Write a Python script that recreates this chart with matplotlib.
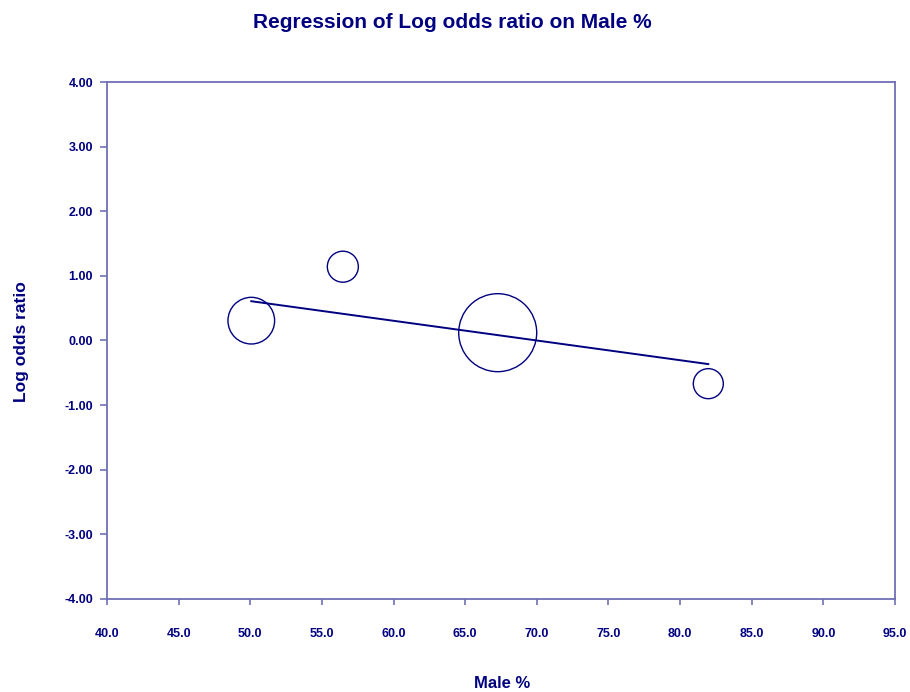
import matplotlib
matplotlib.use("Agg")
import matplotlib.pyplot as plt
import numpy as np

# Data
male_pct = [50.07, 56.46, 67.27, 81.97]
log_odds = [0.307, 1.142, 0.121, -0.668]
weights = [21.5, 9.5, 60.1, 8.9]          # relative study weights (bubble area)
reg_intercept = 2.135
reg_slope = -0.0305
x_ticks = [40.0, 45.0, 50.0, 55.0, 60.0, 65.0, 70.0, 75.0, 80.0, 85.0, 90.0, 95.0]
y_ticks = [-4.0, -3.0, -2.0, -1.0, 0.0, 1.0, 2.0, 3.0, 4.0]

navy = "#000080"
frame = "#7070b8"
plt.rcParams['font.family'] = ['Liberation Sans', 'DejaVu Sans']

fig = plt.figure(figsize=(9.1, 6.92), dpi=100)
ax = fig.add_axes([0.1176, 0.1344, 0.8659, 0.7471])

w = np.array(weights)
r_px = 39.0 * np.sqrt(w / w.max())
sizes = (2 * r_px * 0.72) ** 2
ax.scatter(male_pct, log_odds, s=sizes, facecolors='none', edgecolors=navy,
           linewidths=1.0, zorder=3)

xl = np.array([min(male_pct), max(male_pct)])
ax.plot(xl, reg_intercept + reg_slope * xl, color=navy, lw=1.4, zorder=4)

ax.set_xlim(40, 95)
ax.set_ylim(-4, 4)
ax.set_xticks(x_ticks)
ax.set_yticks(y_ticks)
ax.set_xticklabels([f"{v:.1f}" for v in x_ticks])
ax.set_yticklabels([f"{v:.2f}" for v in y_ticks])
for s in ax.spines.values():
    s.set_color(frame)
    s.set_linewidth(1.3)
ax.tick_params(axis='x', direction='out', length=4, width=1.2, color=frame,
               labelcolor=navy, labelsize=9, pad=17)
ax.tick_params(axis='y', direction='out', length=5, width=1.2, color=frame,
               labelcolor=navy, labelsize=9, pad=5)
for lab in ax.get_xticklabels() + ax.get_yticklabels():
    lab.set_fontweight('bold')

fig.text(0.497, 0.968, "Regression of Log odds ratio on Male %", ha='center', va='center',
         color=navy, fontsize=15, fontweight='bold')
fig.text(0.552, 0.013, "Male %", ha='center', va='center', color=navy,
         fontsize=12, fontweight='bold')
fig.text(0.024, 0.506, "Log odds ratio", ha='center', va='center', color=navy,
         fontsize=12.5, fontweight='bold', rotation=90)

fig.savefig("out.png", dpi=100, facecolor='white')
